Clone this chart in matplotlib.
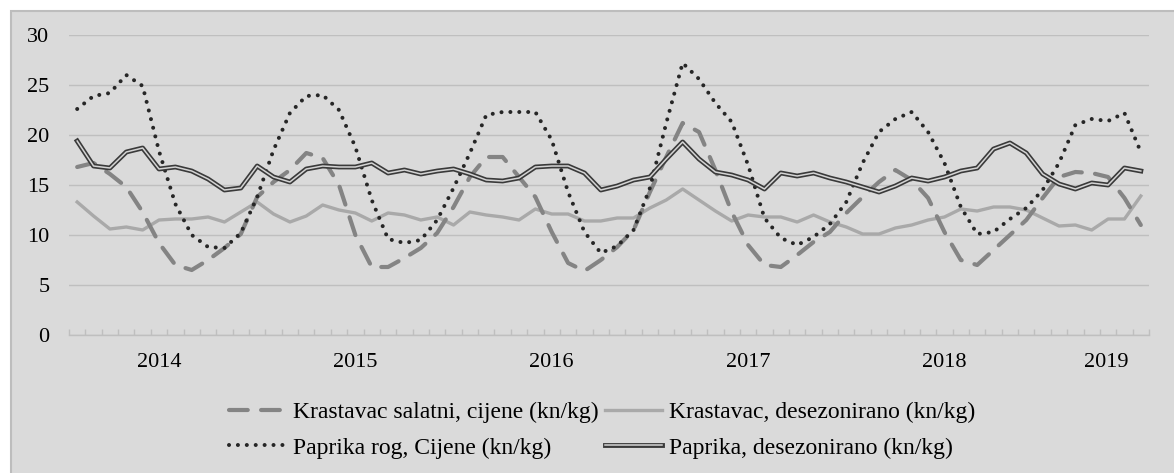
import matplotlib
matplotlib.use("Agg")
import matplotlib.pyplot as plt
from matplotlib.patches import Rectangle
from matplotlib.legend_handler import HandlerTuple
import numpy as np

plt.rcParams["font.family"] = ["Liberation Serif", "DejaVu Serif"]

# monthly values (kn/kg)
krastavac_salatni = [16.8, 17.2, 16.1, 14.8, 12.3, 9.2, 7.0, 6.5, 7.5, 8.7, 10.1, 13.8,
                     15.3, 16.5, 18.2, 17.7, 15.0, 10.0, 6.8, 6.8, 7.7, 8.7, 10.2, 12.8,
                     15.8, 17.8, 17.8, 15.8, 13.8, 10.3, 7.2, 6.4, 7.5, 8.8, 10.5, 14.3,
                     17.8, 21.2, 20.3, 16.5, 12.3, 9.0, 7.0, 6.8, 8.0, 9.3, 10.3, 12.2,
                     13.8, 15.3, 16.5, 15.5, 13.7, 10.3, 7.5, 7.0, 8.5, 10.0, 11.5, 13.7,
                     15.8, 16.3, 16.2, 15.8, 13.7, 11.0]
krastavac_desez = [13.3, 11.9, 10.6, 10.8, 10.5, 11.5, 11.6, 11.6, 11.8, 11.3, 12.3, 13.3,
                   12.1, 11.3, 11.9, 13.0, 12.5, 12.2, 11.4, 12.2, 12.0, 11.5, 11.8, 11.0,
                   12.3, 12.0, 11.8, 11.5, 12.6, 12.1, 12.1, 11.4, 11.4, 11.7, 11.7, 12.7,
                   13.5, 14.6, 13.5, 12.4, 11.4, 12.0, 11.8, 11.8, 11.3, 12.0, 11.3, 10.8,
                   10.1, 10.1, 10.7, 11.0, 11.5, 11.8, 12.6, 12.4, 12.8, 12.8, 12.5, 11.7,
                   10.9, 11.0, 10.5, 11.6, 11.6, 13.9]
paprika_rog = [22.6, 23.9, 24.2, 26.0, 24.9, 18.4, 13.1, 10.0, 8.8, 8.7, 10.2, 13.8,
               18.5, 22.2, 23.9, 24.0, 22.5, 18.8, 13.5, 9.6, 9.2, 9.5, 11.5, 14.7,
               18.2, 22.0, 22.3, 22.3, 22.3, 19.5, 14.3, 10.3, 8.2, 8.9, 10.5, 14.7,
               21.2, 27.2, 25.6, 23.2, 21.3, 17.0, 11.7, 9.7, 9.0, 9.8, 11.1, 13.3,
               17.2, 20.3, 21.6, 22.3, 20.3, 17.2, 12.8, 10.1, 10.3, 11.6, 12.7, 14.5,
               17.2, 21.0, 21.6, 21.4, 22.2, 18.3]
paprika_desez = [19.4, 16.9, 16.7, 18.3, 18.7, 16.6, 16.8, 16.4, 15.6, 14.5, 14.7, 16.9,
                 15.8, 15.3, 16.6, 16.9, 16.8, 16.8, 17.2, 16.2, 16.5, 16.1, 16.4, 16.6,
                 16.1, 15.5, 15.4, 15.7, 16.8, 16.9, 16.9, 16.2, 14.5, 14.9, 15.5, 15.8,
                 17.6, 19.3, 17.6, 16.3, 16.0, 15.5, 14.6, 16.2, 15.9, 16.2, 15.7, 15.3,
                 14.8, 14.3, 14.9, 15.7, 15.4, 15.8, 16.4, 16.7, 18.6, 19.2, 18.2, 16.1,
                 15.1, 14.6, 15.2, 15.0, 16.7, 16.4]
years = ["2014", "2015", "2016", "2017", "2018", "2019"]

labels = ["Krastavac salatni, cijene (kn/kg)", "Paprika rog, Cijene (kn/kg)",
          "Krastavac, desezonirano (kn/kg)", "Paprika, desezonirano (kn/kg)"]

bg = "#dadada"
x = np.arange(len(paprika_desez))

fig = plt.figure(figsize=(11.74, 4.73), dpi=100, facecolor="white")
fig.patches.append(Rectangle((11 / 1174, -0.05), 1.1, 1 - 11 / 473 + 0.05,
                             transform=fig.transFigure, facecolor=bg,
                             edgecolor="#bdbdbd", linewidth=1.5, zorder=-5))
ax = fig.add_axes([69 / 1174, 1 - 335 / 473, 1080 / 1174, 300 / 473])
ax.set_facecolor(bg)

l1, = ax.plot(x, krastavac_salatni, color="#848484", lw=3.0,
              linestyle=(0, (4.5, 3.2)), dash_capstyle="round", zorder=3)
l2, = ax.plot(x, krastavac_desez, color="#a9a9a9", lw=2.4,
              solid_joinstyle="round", zorder=2)
l3, = ax.plot(x, paprika_rog, color="#262626", lw=2.9,
              linestyle=(0, (0.01, 2.2)), dash_capstyle="round", zorder=4)
l4a, = ax.plot(x, paprika_desez, color="#3a3a3a", lw=3.5, zorder=5)
l4b, = ax.plot(x, paprika_desez, color="#d4d4d4", lw=1.1, zorder=6)

ax.set_xlim(-0.5, len(x) - 0.5)
ax.set_ylim(0, 30)
ax.set_yticks(range(0, 31, 5))
ax.grid(axis="y", color="#bfbfbf", lw=1.0)
ax.set_axisbelow(True)
for s in ["top", "left", "right"]:
    ax.spines[s].set_visible(False)
ax.spines["bottom"].set_color("#bfbfbf")
ax.spines["bottom"].set_linewidth(1.0)

ax.set_xticks([5, 17, 29, 41, 53, 62.9])
ax.set_xticklabels(years)
ax.set_xticks(np.arange(-0.5, len(x)), minor=True)
ax.tick_params(axis="x", which="major", length=0, pad=13, labelsize=16)
ax.tick_params(axis="x", which="minor", direction="in", length=4,
               color="#bfbfbf", width=1.0)
ax.tick_params(axis="y", length=0, pad=14, labelsize=16)

fig.legend([l1, l3, l2, (l4a, l4b)], labels, ncol=2, loc="center",
           bbox_to_anchor=(0.513, 0.091), frameon=False, fontsize=17,
           handlelength=2.4, handletextpad=0.3, columnspacing=0.3,
           labelspacing=0.6,
           handler_map={tuple: HandlerTuple(ndivide=1, pad=0)})

fig.savefig("out.png", dpi=100, facecolor=fig.get_facecolor())
plt.close()
